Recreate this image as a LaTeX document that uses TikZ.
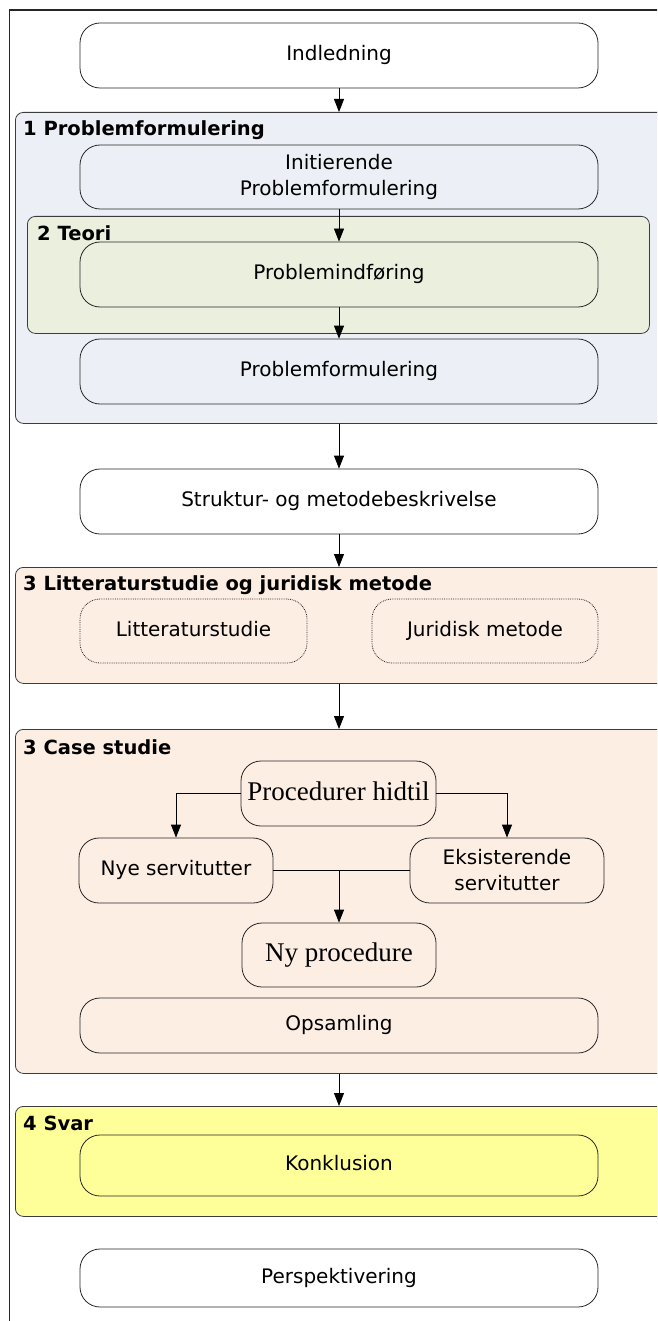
\documentclass[tikz,border=0pt]{standalone}
\usepackage{fontspec}
\setmainfont{DejaVu Sans}
\newfontfamily\serifface{Liberation Serif}
\usetikzlibrary{arrows.meta}

\definecolor{probfill}{RGB}{236,240,246}
\definecolor{teorifill}{RGB}{235,239,222}
\definecolor{peachfill}{RGB}{253,238,228}
\definecolor{svarfill}{RGB}{255,255,153}
\definecolor{groupline}{RGB}{60,60,60}

\tikzset{
  stage/.style={draw=black!85, line width=0.8pt, rounded corners=20pt,
    minimum height=65pt, align=center,
    font=\fontsize{20}{26}\selectfont},
  oneline/.style={text height=14.5pt, text depth=4.5pt},
  widestage/.style={stage, minimum width=518pt},
  halfstage/.style={stage, minimum width=194pt},
  dottedstage/.style={stage, oneline, densely dotted, minimum width=227pt},
  serifstage/.style={halfstage, text height=19pt, text depth=6pt,
    font=\serifface\fontsize{27}{30}\selectfont},
  group/.style={draw=groupline, line width=0.8pt, rounded corners=8pt,
    anchor=north west, inner sep=0pt},
  grouplabel/.style={anchor=west, inner sep=0pt,
    font=\bfseries\fontsize{19.5}{24}\selectfont},
  flow/.style={draw=black, line width=0.8pt,
    -{Triangle[length=13pt,width=10pt]}},
  joinline/.style={draw=black, line width=0.8pt}
}

\begin{document}
\begin{tikzpicture}[x=1pt,y=-1pt]
\useasboundingbox (0,0) rectangle (657,1321);
\clip (0,0) rectangle (657,1321);

% outer frame
\draw[line width=1.6pt, black!85] (9.5,1330) -- (9.5,10) -- (670,10);

% chapter groups
\node[group, fill=probfill, minimum width=650pt, minimum height=311pt] (g1) at (15,112) {};
\node[group, fill=teorifill, minimum width=622pt, minimum height=117pt] (g2) at (27,216) {};
\node[group, fill=peachfill, minimum width=650pt, minimum height=116pt] (g3) at (15,567) {};
\node[group, fill=peachfill, minimum width=650pt, minimum height=344pt] (g4) at (15,729) {};
\node[group, fill=svarfill, minimum width=650pt, minimum height=110pt] (g5) at (15,1106) {};

\node[grouplabel] (l1) at (23,130) {1 Problemformulering};
\node[grouplabel] (l2) at (37,233) {2 Teori};
\node[grouplabel] (l3) at (23,585) {3 Litteraturstudie og juridisk metode};
\node[grouplabel] (l4) at (23,747) {3 Case studie};
\node[grouplabel] (l5) at (23,1123) {4 Svar};

% stages
\node[widestage, oneline, fill=white] (ind) at (339,55.5) {Indledning};
\node[widestage, minimum height=64pt] (init) at (339,177) {Initierende\\Problemformulering};
\node[widestage, oneline] (pind) at (339,274.5) {Problemindføring};
\node[widestage, oneline] (pform) at (339,371.5) {Problemformulering};
\node[widestage, oneline, fill=white] (strukt) at (339,501.5) {Struktur- og metodebeskrivelse};
\node[dottedstage, minimum height=64pt] (litt) at (193.5,631) {Litteraturstudie};
\node[dottedstage, minimum height=64pt, minimum width=226pt] (jur) at (485,631) {Juridisk metode};
\node[serifstage, minimum width=195pt] (proc) at (338.5,793.5) {Procedurer hidtil};
\node[halfstage, oneline] (nye) at (176,870.5) {Nye servitutter};
\node[halfstage] (eks) at (507,870.5) {Eksisterende\\servitutter};
\node[serifstage, minimum height=64pt] (nyproc) at (339,955) {Ny procedure};
\node[widestage, oneline, minimum height=55pt] (ops) at (339,1025.5) {Opsamling};
\node[widestage, oneline, minimum height=61pt] (konk) at (339,1165.5) {Konklusion};
\node[widestage, oneline, minimum height=58pt, fill=white] (persp) at (339,1278) {Perspektivering};

% connectors
\draw[flow] (ind.south) -- (ind.south |- g1.north);
\draw[flow] (init.south) -- (pind.north);
\draw[flow] (pind.south) -- (pform.north);
\draw[flow] (pform.south |- g1.south) -- (strukt.north);
\draw[flow] (strukt.south) -- (strukt.south |- g3.north);
\draw[flow] (strukt.south |- g3.south) -- (strukt.south |- g4.north);
\draw[flow] (proc.west) -| (nye.north);
\draw[flow] (proc.east) -| (eks.north);
\draw[joinline] (nye.east) -- (eks.west);
\coordinate (join) at (nye.east -| nyproc.north);
\draw[flow] (join) -- (nyproc.north);
\draw[flow] (ops.south |- g4.south) -- (ops.south |- g5.north);
\end{tikzpicture}
\end{document}
